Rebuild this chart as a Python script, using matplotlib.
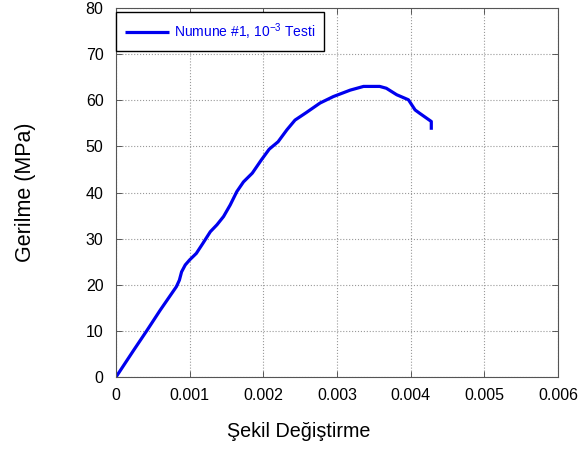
import matplotlib
matplotlib.use("Agg")
import matplotlib.pyplot as plt

plt.rcParams['font.family'] = ['Liberation Sans', 'DejaVu Sans']
plt.rcParams['mathtext.default'] = 'regular'

# strain / stress values
strain = [0.0, 0.000235, 0.00042, 0.0006, 0.00082, 0.00086, 0.00089, 0.00094,
          0.001, 0.00109, 0.00118, 0.00128, 0.00137, 0.00146, 0.00155,
          0.00164, 0.00173, 0.00185, 0.00197, 0.00208, 0.0022, 0.00232,
          0.00243, 0.00258, 0.00277, 0.00295, 0.00318, 0.00336, 0.00358,
          0.00367, 0.00381, 0.00397, 0.00406, 0.00412, 0.00428, 0.00428]
stress = [0.0, 5.7, 10.1, 14.5, 19.6, 21.0, 22.8, 24.3,
          25.4, 26.8, 29.0, 31.5, 33.0, 34.8, 37.3,
          40.2, 42.3, 44.2, 47.0, 49.4, 51.0, 53.6,
          55.7, 57.3, 59.4, 60.8, 62.2, 63.0, 63.0,
          62.6, 61.2, 60.1, 57.9, 57.2, 55.4, 53.6]

label = r'Numune #1, 10$^{-3}$ Testi'

fig = plt.figure(figsize=(5.81, 4.5), dpi=100)
ax = fig.add_axes([0.1997, 0.1622, 0.7607, 0.82])

ax.plot(strain, stress, color='#0000EE', lw=2.3, label=label,
        solid_joinstyle='round', solid_capstyle='butt')

ax.set_xlim(0, 0.006)
ax.set_ylim(0, 80)
ax.set_xticks([0, 0.001, 0.002, 0.003, 0.004, 0.005, 0.006])
ax.set_xticklabels(['0', '0.001', '0.002', '0.003', '0.004', '0.005', '0.006'])
ax.set_yticks(range(0, 81, 10))

ax.grid(True, color='#999999', linestyle=':', linewidth=0.8)
ax.tick_params(direction='in', top=True, right=True, labelsize=11.5,
               length=4, width=0.6, color='#444444')
ax.tick_params(axis='x', pad=8)
ax.tick_params(axis='y', pad=9)
for s in ax.spines.values():
    s.set_color('#555555')
    s.set_linewidth(0.8)

ax.set_xlabel('Şekil Değiştirme', fontsize=14.2)
ax.xaxis.set_label_coords(0.414, -0.122, transform=ax.transAxes)
ax.set_ylabel('Gerilme (MPa)', fontsize=15.5, labelpad=36)

leg = ax.legend(loc='upper left', bbox_to_anchor=(0.0, 0.989), fontsize=10,
                borderaxespad=0.0, fancybox=False, framealpha=1,
                handlelength=3.2, handletextpad=0.3, borderpad=0.65)
leg.get_frame().set_edgecolor('black')
leg.get_frame().set_linewidth(1.0)
for t in leg.get_texts():
    t.set_color('#0000EE')

fig.savefig('out.png', dpi=100)
